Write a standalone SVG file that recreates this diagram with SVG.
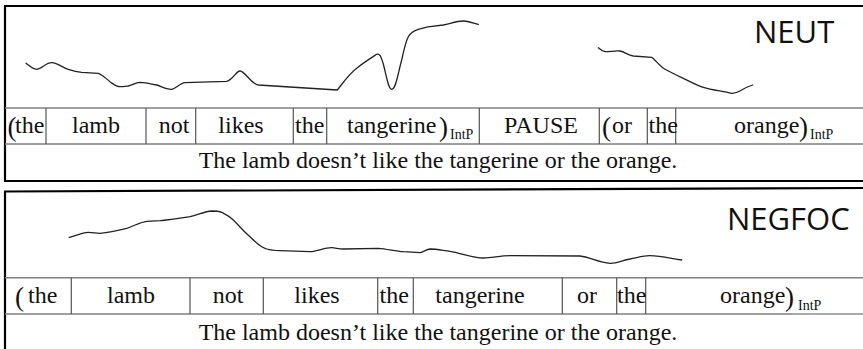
<svg xmlns="http://www.w3.org/2000/svg" width="863" height="349" viewBox="0 0 863 349">
  <style>
    .frame { stroke: #000; stroke-width: 2.2; fill: none; }
    .rule { stroke: #808080; stroke-width: 1.6; fill: none; }
    .sep { stroke: #555; stroke-width: 1.2; fill: none; }
    .contour { stroke: #222; stroke-width: 1.3; fill: none; stroke-linejoin: round; stroke-linecap: round; }
    .w { font-family: "Liberation Serif", "Times New Roman", serif; font-size: 24px; fill: #111; }
    .par { font-family: "Liberation Serif", "Times New Roman", serif; font-size: 27px; fill: #111; }
    .sub { font-family: "Liberation Serif", "Times New Roman", serif; font-size: 14px; fill: #111; }
    .c { text-anchor: middle; }
    .tag { font-family: "Open Sans", "Noto Sans", sans-serif; font-size: 31px; fill: #111; }
  </style>

  <!-- Panel 1: neutral reading -->
  <g id="panel-neut">
    <g id="neut-frame">
      <path class="frame" d="M4 6 H863 M5 6 V181 M4 181 H863"/>
      <path class="rule" d="M5 108 H863 M5 144 H863"/>
      <path class="sep" d="M46 108 V144 M146 108 V144 M195.7 108 V144 M293.3 108 V144 M326.7 108 V144 M479.3 108 V144 M599.3 108 V144 M647.3 108 V144 M675.7 108 V144"/>
    </g>
    <g id="neut-contour">
      <path class="contour" d="M26 63.3 C30 66 33 69.5 36.7 69.3 C42 69 46 62.5 51.7 62.7 C58 63 62 67.5 68.3 69.3 C73 70.8 77 71.8 81.7 72.3 L98.3 73.3 C103 75 106 78.8 110 81.7 C113.5 84 116 86.8 120 86.7 C123 86.7 125 86.4 128.3 86 C132 85.2 136 82.3 140 82.3 C146 82.6 151 83.7 156.7 85 C161 86.2 166 89.5 171.7 89.3 C176 88.5 180 83.3 185 82.7 L226.7 81.3 C233 80 236 71 240 71 C245 71 251 84 258.3 85 L337.3 90 C343 83 349 74 356.7 68.3 C363 63 371 58 376.7 54.3 C380 53 381 57 383 63 C386 73 388 89 391.7 89.3 C396 89.5 398 73 401.7 60 C404 49 406 41 408.3 36.7 C411 32 414 30.5 418.3 29.3 C423 28 426 27.2 430 26.7 L443.3 25 C450 23.8 456 21 463.3 21 C468 21 473 23 478.3 24.3"/>
      <path class="contour" d="M598.3 47.7 C600.5 49.5 602.5 51.5 605 51.7 C610 51.8 615 50.5 620 51 C625 52 628 55.5 633.3 56 L651.7 57.3 C656 60.5 660 66.5 665 69.3 C671 72.5 677 75.5 683.3 78.3 C690 81.5 696 85 703.3 87.3 C712 90 722 91 731.7 93.3 C736 93.5 739 91.5 741.7 90 C745 88 749 86.2 752.7 85"/>
    </g>
    <g id="neut-words">
      <text class="par" x="7.5" y="136">(</text>
      <text class="w" x="15" y="133">the</text>
      <text class="w c" x="96" y="133">lamb</text>
      <text class="w c" x="174" y="133">not</text>
      <text class="w c" x="241" y="133">likes</text>
      <text class="w" x="295" y="133">the</text>
      <text class="w" x="347" y="133">tangerine</text>
      <text class="par" x="439" y="136">)</text>
      <text class="sub" x="450" y="139">IntP</text>
      <text class="w c" x="541" y="133">PAUSE</text>
      <text class="par" x="602" y="136">(</text>
      <text class="w" x="612" y="133">or</text>
      <text class="w" x="648.5" y="133">the</text>
      <text class="w" x="734" y="133">orange</text>
      <text class="par" x="799" y="136">)</text>
      <text class="sub" x="810" y="139">IntP</text>
    </g>
    <text class="w c" x="438" y="168">The lamb doesn’t like the tangerine or the orange.</text>
    <text class="tag" x="754" y="43">NEUT</text>
  </g>

  <!-- Panel 2: negation-focus reading -->
  <g id="panel-negfoc">
    <g id="negfoc-frame">
      <path class="frame" d="M4 191.5 L863 188 M5 191.5 V349"/>
      <path class="rule" d="M5 277.7 H863 M5 314 H792"/>
      <path class="sep" d="M792 314 H863"/>
      <path class="sep" d="M71.3 277.7 V314 M190 277.7 V314 M263.3 277.7 V314 M377.7 277.7 V314 M413.3 277.7 V314 M562.3 277.7 V314 M616.7 277.7 V314 M645.7 277.7 V314"/>
    </g>
    <g id="negfoc-contour">
      <path class="contour" d="M69.3 237.3 C75 236 82 232.5 88.3 232.3 C93 232.2 96 233.5 100 233.3 C109 232.5 118 230.5 126.7 228.3 C134 226.2 140 222 146.7 221.3 L160 220.7 C170 219.5 180 218.5 190 216.7 C198 215 205 211.2 211.7 211 C215 211 218.5 211 221.7 212.3 C226 214.5 229 216 233.3 220 C239 225.5 244 232 250 236.7 C255 241.5 260 247 266.7 249 C271 250.2 275 250.5 280 250.7 L310 251.7 C318 251.2 325 247.5 331.7 247.7 C336 248 339 249 343.3 249 L378.3 248.3 C387 249 395 251 403.3 251.7 L420 252.7 C424 251.5 427 249.2 430 249 C437 249 443 250.5 450 251.3 C461 253 472 258 483.3 258 C492 258 500 255.7 510 255.7 L580 256 C590 257 599 263 610 263.3 C617 263.5 623 260 630 259 C637 257.8 644 255.5 650 255.7 C661 256 671 258.5 681.7 260"/>
    </g>
    <g id="negfoc-words">
      <text class="par" x="15" y="306">(</text>
      <text class="w" x="28" y="303">the</text>
      <text class="w c" x="131" y="303">lamb</text>
      <text class="w c" x="228" y="303">not</text>
      <text class="w c" x="317" y="303">likes</text>
      <text class="w" x="379.5" y="303">the</text>
      <text class="w c" x="480" y="303">tangerine</text>
      <text class="w c" x="587" y="303">or</text>
      <text class="w" x="617" y="303">the</text>
      <text class="w" x="720" y="303">orange</text>
      <text class="par" x="785" y="306">)</text>
      <text class="sub" x="798" y="310">IntP</text>
    </g>
    <text class="w c" x="438" y="340">The lamb doesn’t like the tangerine or the orange.</text>
    <text class="tag" x="727" y="230">NEGFOC</text>
  </g>
</svg>
